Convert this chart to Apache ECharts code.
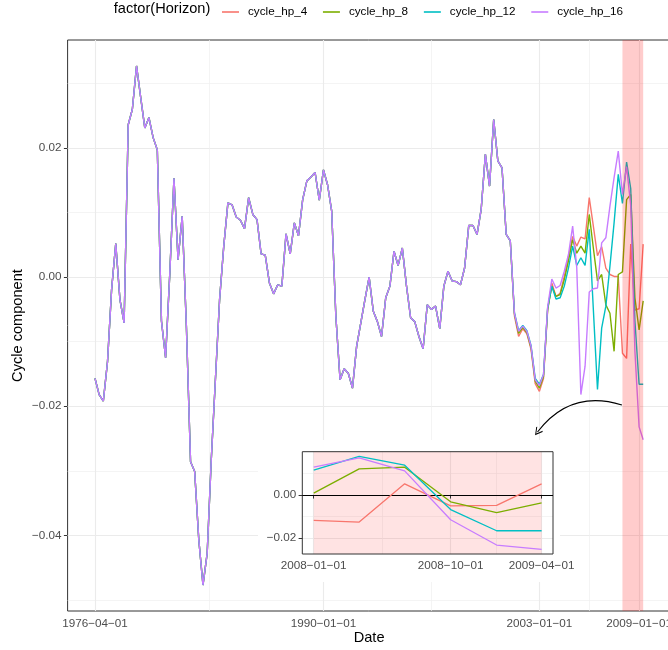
<!DOCTYPE html>
<html>
<head>
<meta charset="utf-8">
<script src="https://cdn.jsdelivr.net/npm/echarts@6/dist/echarts.min.js"></script>
<style>
  html, body { margin: 0; padding: 0; background: #ffffff; }
  #chart { width: 668px; height: 650px; }
</style>
</head>
<body>
<div id="chart"></div>
<script>
// Quarterly HP cycle component, 1976Q2 .. 2009Q2.
// The four horizons coincide up to 2001Q2; after that each has its own path.
const firstQuarter = { year: 1976, month: 4 };

const sharedCycle = [
  -0.0157, -0.0182, -0.0192, -0.0131, -0.0019, 0.0052, -0.0035, -0.0071,
  0.0236, 0.0260, 0.0327, 0.0278, 0.0231, 0.0247, 0.0216, 0.0197,
  -0.0068, -0.0125, 0.0005, 0.0153, 0.0027, 0.0094, -0.0076, -0.0286,
  -0.0301, -0.0407, -0.0477, -0.0428, -0.0283, -0.0159, -0.0035, 0.0048,
  0.0115, 0.0112, 0.0093, 0.0088, 0.0075, 0.0123, 0.0097, 0.0089,
  0.0036, 0.0034, -0.0009, -0.0026, -0.0012, -0.0014, 0.0067, 0.0036,
  0.0084, 0.0064, 0.0120, 0.0149, 0.0155, 0.0162, 0.0119, 0.0166,
  0.0143, 0.0102, -0.0061, -0.0159, -0.0142, -0.0149, -0.0172, -0.0107,
  -0.0071, -0.0035, 0.0000, -0.0053, -0.0069, -0.0092, -0.0032, -0.0014,
  0.0040, 0.0018, 0.0045, -0.0014, -0.0063, -0.0069, -0.0092, -0.0111,
  -0.0043, -0.0050, -0.0045, -0.0080, -0.0014, 0.0009, -0.0006, -0.0007,
  -0.0012, 0.0014, 0.0080, 0.0080, 0.0066, 0.0105, 0.0190, 0.0141,
  0.0244, 0.0180, 0.0169, 0.0066, 0.0056
];

// 2001Q3 .. 2009Q2 for each horizon
const tailHp4 = [
  -0.0060, -0.0092, -0.0080, -0.0088, -0.0112, -0.0165, -0.0177, -0.0157,
  -0.0052, -0.0009, -0.0030, -0.0025, 0.0001, 0.0032, 0.0063, 0.0048,
  0.0062, 0.0059, 0.0123, 0.0079, 0.0033, 0.0047, 0.0014, 0.0004,
  0.0001, 0.0001, -0.0118, -0.0126, 0.0051, -0.0051, -0.0049, 0.0051
];
const tailHp8 = [
  -0.0057, -0.0087, -0.0078, -0.0086, -0.0109, -0.0161, -0.0172, -0.0154,
  -0.0050, -0.0014, -0.0030, -0.0027, -0.0004, 0.0025, 0.0058, 0.0037,
  0.0048, 0.0037, 0.0097, 0.0045, -0.0006, 0.0004, -0.0043, -0.0056,
  -0.0115, 0.0004, 0.0008, 0.0120, 0.0128, -0.0032, -0.0082, -0.0037
];
const tailHp12 = [
  -0.0055, -0.0083, -0.0075, -0.0083, -0.0106, -0.0157, -0.0166, -0.0151,
  -0.0048, -0.0014, -0.0034, -0.0032, -0.0014, 0.0014, 0.0048, 0.0018,
  0.0030, 0.0018, 0.0074, -0.0050, -0.0174, -0.0079, -0.0045, 0.0017,
  0.0084, 0.0159, 0.0114, 0.0178, 0.0137, -0.0068, -0.0166, -0.0166
];
const tailHp16 = [
  -0.0056, -0.0084, -0.0076, -0.0084, -0.0107, -0.0159, -0.0168, -0.0151,
  -0.0046, -0.0003, -0.0017, -0.0013, 0.0009, 0.0035, 0.0079, 0.0015,
  -0.0182, -0.0138, -0.0023, -0.0018, -0.0017, 0.0053, 0.0061, 0.0110,
  0.0154, 0.0195, 0.0128, 0.0171, 0.0111, -0.0115, -0.0232, -0.0252
];

const horizonNames = ['cycle_hp_4', 'cycle_hp_8', 'cycle_hp_12', 'cycle_hp_16'];
const horizonColors = ['#F8766D', '#7CAE00', '#00BFC4', '#C77CFF'];
const horizonTails = [tailHp4, tailHp8, tailHp12, tailHp16];

const mainXBreaks = ['1976-04-01', '1990-01-01', '2003-01-01', '2009-01-01'];
const mainYBreaks = [-0.04, -0.02, 0.00, 0.02];
const insetXBreaks = ['2008-01-01', '2008-10-01', '2009-04-01'];
const insetYBreaks = [-0.02, 0.00];
const crisisWindow = ['2008-01-01', '2009-04-01'];
const arrowEnds = [['2007-12-20', -0.0198], ['2002-11-20', -0.0240]];

// ---------- helpers ----------
const FONT = '"Liberation Sans", Arial, Helvetica, sans-serif';
const MINUS = '\u2212';
const ms = s => { const [y, m, d] = s.split('-').map(Number); return Date.UTC(y, m - 1, d); };
const fmtNum = v => (v < -1e-9 ? MINUS : '') + Math.abs(v).toFixed(2);
const fmtDate = t => {
  const d = new Date(t);
  const p = n => String(n).padStart(2, '0');
  return d.getUTCFullYear() + MINUS + p(d.getUTCMonth() + 1) + MINUS + p(d.getUTCDate());
};
const midpoints = arr => arr.slice(1).map((v, i) => (arr[i] + v) / 2);
const expand = (lo, hi, f) => { const s = hi - lo; return [lo - s * f, hi + s * f]; };

const nQ = sharedCycle.length + tailHp4.length;
const quarterDates = Array.from({ length: nQ }, (_, i) =>
  Date.UTC(firstQuarter.year, firstQuarter.month - 1 + 3 * i, 1));
const seriesValues = horizonTails.map(t => sharedCycle.concat(t));

// ---------- scales ----------
const [xMin, xMax] = expand(quarterDates[0], quarterDates[nQ - 1], 0.05);
const allVals = seriesValues.flat();
const [yMin, yMax] = expand(Math.min(...allVals), Math.max(...allVals), 0.05);

const insetStart = ms(insetXBreaks[0]);
const insetIdx = quarterDates.map((d, i) => i).filter(i => quarterDates[i] >= insetStart);
const insetVals = seriesValues.flatMap(v => insetIdx.map(i => v[i]));
const [ixMin, ixMax] = expand(quarterDates[insetIdx[0]], quarterDates[insetIdx[insetIdx.length - 1]], 0.05);
const [iyMin, iyMax] = expand(Math.min(...insetVals), Math.max(...insetVals), 0.05);

const mainXMajor = mainXBreaks.map(ms);
const mainXMinor = midpoints(mainXMajor);
const mainYMinor = [-0.05, -0.03, -0.01, 0.01, 0.03];
const insetXMajor = insetXBreaks.map(ms);
const insetXMinor = midpoints(insetXMajor);
const insetYMinor = [-0.01, 0.01];

// ---------- layout ----------
const PANEL = { left: 67.6, top: 40, width: 603, height: 571 };
const INSET = { left: 302.3, top: 451.7, width: 250.7, height: 102.3 };
const tickText = { color: '#4D4D4D', fontSize: 11.7, fontFamily: FONT };
const titleText = { color: '#000000', fontSize: 14.6, fontFamily: FONT };

const gridLine = (w, c) => ({ color: c, width: w, type: 'solid' });

const series = [];

// main panel grid lines
series.push({
  type: 'line', xAxisIndex: 0, yAxisIndex: 0, data: [], z: 1, silent: true,
  markLine: {
    z: 1, silent: true, symbol: ['none', 'none'], label: { show: false }, animation: false,
    data: [
      ...mainYMinor.map(v => ({ yAxis: v, lineStyle: gridLine(0.7, '#EFEFEF') })),
      ...mainYBreaks.map(v => ({ yAxis: v, lineStyle: gridLine(1.1, '#EBEBEB') })),
      ...mainXMinor.map(v => ({ xAxis: v, lineStyle: gridLine(0.7, '#EFEFEF') })),
      ...mainXMajor.map(v => ({ xAxis: v, lineStyle: gridLine(1.1, '#EBEBEB') }))
    ]
  }
});

// main panel lines
horizonNames.forEach((name, k) => {
  series.push({
    name, type: 'line', xAxisIndex: 0, yAxisIndex: 0, z: 2,
    data: quarterDates.map((d, i) => [d, seriesValues[k][i]]),
    showSymbol: false, symbol: 'none', color: horizonColors[k],
    lineStyle: { width: 1.4, color: horizonColors[k] },
    emphasis: { disabled: true }, animation: false
  });
});

// highlighted crisis window on the main panel
series.push({
  type: 'line', xAxisIndex: 0, yAxisIndex: 0, data: [], z: 3, silent: true,
  markArea: {
    z: 3, silent: true, animation: false,
    itemStyle: { color: 'rgba(255,0,0,0.2)' },
    data: [[{ xAxis: ms(crisisWindow[0]) }, { xAxis: ms(crisisWindow[1]) }]]
  }
});

// curved arrow pointing from the window to the zoomed view
series.push({
  type: 'lines', coordinateSystem: 'cartesian2d', xAxisIndex: 0, yAxisIndex: 0, z: 10,
  silent: true, animation: false,
  symbol: ['none', 'path://M0,0 L6,9 L5,10 L0,2.5 L-5,10 L-6,9 Z'],
  symbolSize: [8, 8],
  lineStyle: { color: '#000000', width: 1.1, curveness: -0.35, opacity: 1 },
  data: [{ coords: arrowEnds.map(([d, v]) => [ms(d), v]) }]
});

// inset: grid lines, window fill, zero line, lines
series.push({
  type: 'line', xAxisIndex: 1, yAxisIndex: 1, data: [], z: 5, silent: true,
  markLine: {
    z: 5, silent: true, symbol: ['none', 'none'], label: { show: false }, animation: false,
    data: [
      ...insetYMinor.map(v => ({ yAxis: v, lineStyle: gridLine(0.7, '#EFEFEF') })),
      ...insetYBreaks.map(v => ({ yAxis: v, lineStyle: gridLine(1.1, '#EBEBEB') })),
      ...insetXMinor.map(v => ({ xAxis: v, lineStyle: gridLine(0.7, '#EFEFEF') })),
      ...insetXMajor.map(v => ({ xAxis: v, lineStyle: gridLine(1.1, '#EBEBEB') }))
    ]
  }
});
series.push({
  type: 'line', xAxisIndex: 1, yAxisIndex: 1, data: [], z: 6, silent: true,
  markArea: {
    z: 6, silent: true, animation: false,
    itemStyle: { color: 'rgba(255,0,0,0.11)' },
    data: [[{ xAxis: ms(crisisWindow[0]) }, { xAxis: ms(crisisWindow[1]) }]]
  }
});
series.push({
  type: 'line', xAxisIndex: 1, yAxisIndex: 1, data: [], z: 8, silent: true,
  markLine: {
    z: 8, silent: true, symbol: ['none', 'none'], label: { show: false }, animation: false,
    data: [{ yAxis: 0, lineStyle: { color: '#000000', width: 1.2, type: 'solid' } }]
  }
});
horizonNames.forEach((name, k) => {
  series.push({
    name: name + ' ', type: 'line', xAxisIndex: 1, yAxisIndex: 1, z: 9,
    data: insetIdx.map(i => [quarterDates[i], seriesValues[k][i]]),
    showSymbol: false, symbol: 'none', color: horizonColors[k],
    lineStyle: { width: 1.3, color: horizonColors[k] },
    emphasis: { disabled: true }, animation: false
  });
});

const chart = echarts.init(document.getElementById('chart'), null, { renderer: 'canvas' });
chart.setOption({
  animation: false,
  backgroundColor: '#ffffff',
  textStyle: { fontFamily: FONT },
  legend: {
    data: horizonNames, left: 217, top: 1,
    icon: 'rect', itemWidth: 17, itemHeight: 1.6, itemGap: 15.8,
    textStyle: { color: '#000000', fontSize: 11.7, fontFamily: FONT, padding: [0, 0, 0, 4] },
    selectedMode: false
  },
  grid: [
    { ...PANEL, outerBoundsMode: 'none', containLabel: false, show: true,
      borderColor: '#333333', borderWidth: 1, backgroundColor: 'transparent', z: 0 },
    { ...INSET, outerBoundsMode: 'none', containLabel: false, show: true,
      borderColor: '#333333', borderWidth: 1, backgroundColor: 'transparent', z: 7 }
  ],
  xAxis: [
    {
      type: 'value', gridIndex: 0, min: xMin, max: xMax,
      name: 'Date', nameLocation: 'middle', nameGap: 19, nameMoveOverlap: false,
      nameTextStyle: titleText,
      axisLine: { show: false },
      axisTick: { show: true, customValues: mainXMajor, length: 3.7, lineStyle: { color: '#333333', width: 1 } },
      axisLabel: { customValues: mainXMajor, formatter: v => fmtDate(v), margin: 7, ...tickText },
      splitLine: { show: false }
    },
    {
      type: 'value', gridIndex: 1, min: ixMin, max: ixMax, z: 7,
      axisLine: { show: false },
      axisTick: { show: true, customValues: insetXMajor, length: 3.7, lineStyle: { color: '#333333', width: 1 } },
      axisLabel: { customValues: insetXMajor, formatter: v => fmtDate(v), margin: 6, ...tickText },
      splitLine: { show: false }
    }
  ],
  yAxis: [
    {
      type: 'value', gridIndex: 0, min: yMin, max: yMax,
      name: 'Cycle component', nameLocation: 'middle', nameRotate: 90, nameGap: 42,
      nameMoveOverlap: false, nameTextStyle: titleText,
      axisLine: { show: false },
      axisTick: { show: true, customValues: mainYBreaks, length: 3.7, lineStyle: { color: '#333333', width: 1 } },
      axisLabel: { customValues: mainYBreaks, formatter: v => fmtNum(v), margin: 6, ...tickText },
      splitLine: { show: false }
    },
    {
      type: 'value', gridIndex: 1, min: iyMin, max: iyMax, z: 7,
      axisLine: { show: false },
      axisTick: { show: true, customValues: insetYBreaks, length: 3.7, lineStyle: { color: '#333333', width: 1 } },
      axisLabel: { customValues: insetYBreaks, formatter: v => fmtNum(v), margin: 6, ...tickText },
      splitLine: { show: false }
    }
  ],
  graphic: {
    elements: [
      {
        type: 'text', left: 113.8, top: 1.5, z: 10,
        style: { text: 'factor(Horizon)', fill: '#000000', fontSize: 14.6, fontFamily: FONT }
      },
      {
        type: 'rect', z: 4, silent: true,
        shape: { x: 258, y: 440, width: 302, height: 142 },
        style: { fill: '#ffffff' }
      }
    ]
  },
  series
});
</script>
</body>
</html>
